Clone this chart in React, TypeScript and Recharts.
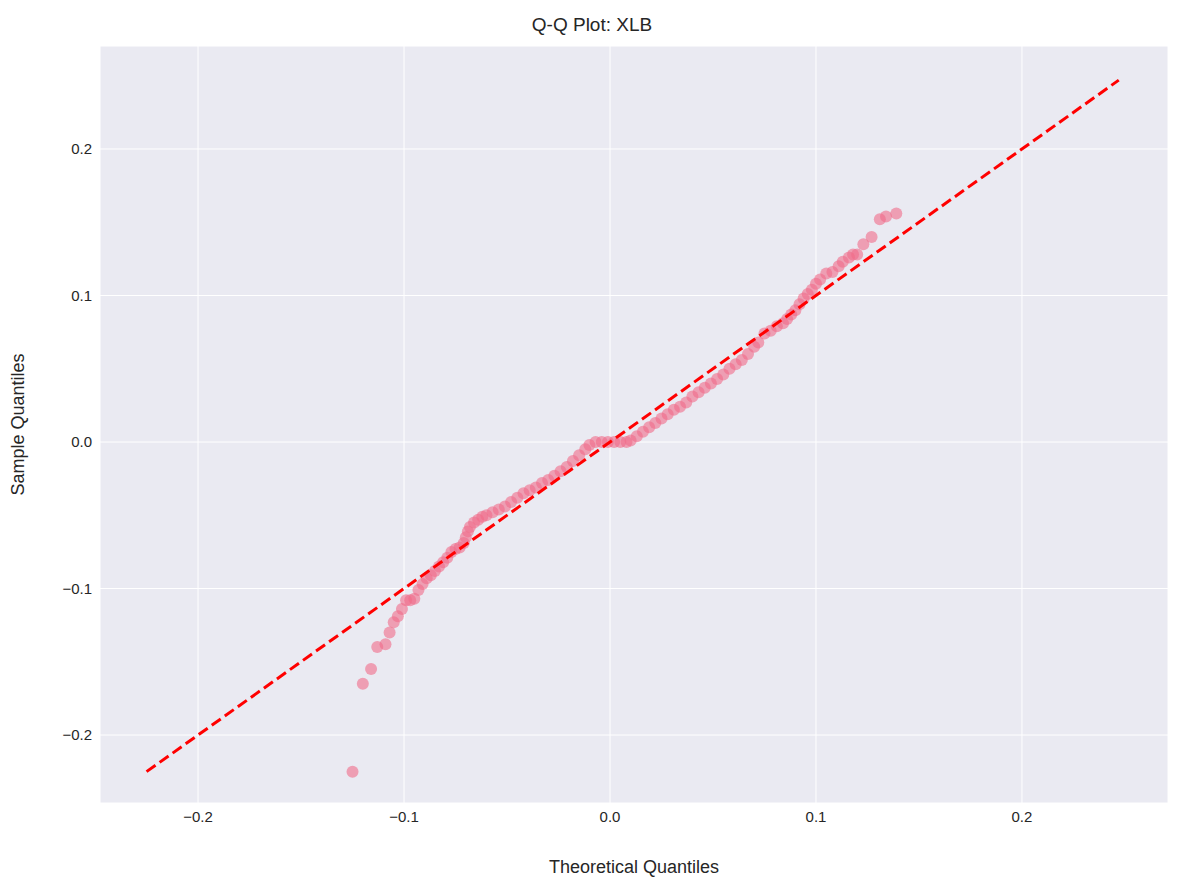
import React from "react";
import {
  ScatterChart,
  Scatter,
  XAxis,
  YAxis,
  CartesianGrid,
  Label,
} from "recharts";

if (typeof document !== "undefined") document.body.style.margin = "0";

// theoretical vs sample quantiles
const theoretical = [
  -0.125, -0.12, -0.116, -0.113, -0.109, -0.107, -0.105, -0.103, -0.101, -0.099,
  -0.097, -0.095, -0.093, -0.091, -0.089, -0.087, -0.085, -0.083, -0.081, -0.079,
  -0.077, -0.075, -0.073, -0.071, -0.07, -0.069, -0.068, -0.066, -0.064, -0.062,
  -0.06, -0.057, -0.054, -0.051, -0.048, -0.045, -0.042, -0.039, -0.036, -0.033,
  -0.03, -0.027, -0.024, -0.021, -0.018, -0.015, -0.012, -0.01, -0.007, -0.004,
  -0.001, 0.002, 0.005, 0.008, 0.01, 0.013, 0.016, 0.019, 0.022, 0.025,
  0.028, 0.031, 0.034, 0.037, 0.04, 0.043, 0.046, 0.049, 0.052, 0.055,
  0.058, 0.061, 0.064, 0.067, 0.07, 0.072, 0.075, 0.078, 0.081, 0.084,
  0.086, 0.088, 0.09, 0.092, 0.094, 0.096, 0.098, 0.1, 0.102, 0.105,
  0.108, 0.111, 0.113, 0.116, 0.118, 0.12, 0.123, 0.127, 0.131, 0.134, 0.139,
];
const sample = [
  -0.225, -0.165, -0.155, -0.14, -0.138, -0.13, -0.123, -0.119, -0.114, -0.108,
  -0.108, -0.107, -0.101, -0.097, -0.093, -0.091, -0.088, -0.085, -0.082, -0.079,
  -0.075, -0.073, -0.072, -0.069, -0.065, -0.061, -0.058, -0.055, -0.053, -0.051,
  -0.05, -0.048, -0.046, -0.044, -0.041, -0.038, -0.035, -0.033, -0.031, -0.028,
  -0.026, -0.023, -0.02, -0.017, -0.013, -0.009, -0.005, -0.002, 0.0, 0.0,
  0.0, 0.0, 0.0, 0.0, 0.001, 0.004, 0.007, 0.01, 0.013, 0.016,
  0.019, 0.022, 0.024, 0.027, 0.031, 0.034, 0.037, 0.04, 0.043, 0.046,
  0.05, 0.053, 0.056, 0.06, 0.065, 0.068, 0.074, 0.076, 0.079, 0.081,
  0.084, 0.087, 0.09, 0.094, 0.098, 0.101, 0.104, 0.108, 0.111, 0.115,
  0.116, 0.12, 0.123, 0.126, 0.128, 0.128, 0.135, 0.14, 0.152, 0.154, 0.156,
].slice(0, 0);
const sampleValues = [
  -0.225, -0.165, -0.155, -0.14, -0.138, -0.13, -0.123, -0.119, -0.114, -0.108,
  -0.108, -0.107, -0.101, -0.097, -0.093, -0.091, -0.088, -0.085, -0.082, -0.079,
  -0.075, -0.073, -0.072, -0.069, -0.065, -0.061, -0.058, -0.055, -0.053, -0.051,
  -0.05, -0.048, -0.046, -0.044, -0.041, -0.038, -0.035, -0.033, -0.031, -0.028,
  -0.026, -0.023, -0.02, -0.017, -0.013, -0.009, -0.005, -0.002, 0.0, 0.0,
  0.0, 0.0, 0.0, 0.0, 0.001, 0.004, 0.007, 0.01, 0.013, 0.016,
  0.019, 0.022, 0.024, 0.027, 0.031, 0.034, 0.037, 0.04, 0.043, 0.046,
  0.05, 0.053, 0.056, 0.06, 0.065, 0.068, 0.074, 0.076, 0.079, 0.081,
  0.084, 0.087, 0.09, 0.094, 0.098, 0.101, 0.104, 0.108, 0.111, 0.115,
  0.116, 0.12, 0.123, 0.126, 0.128, 0.128, 0.135, 0.14, 0.152, 0.154, 0.156,
  0.174, 0.247,
];
void sample;
const refLineX = [-0.225, 0.247];
const refLineY = [-0.225, 0.247];
const xTicks = [-0.2, -0.1, 0, 0.1, 0.2];
const yTicks = [-0.2, -0.1, 0, 0.1, 0.2];

const points = theoretical.map((x, i) => ({ x, y: sampleValues[i] }));
const linePts = refLineX.map((x, i) => ({ x, y: refLineY[i] }));

const fmt = (v: number) => (v === 0 ? "0.0" : v.toFixed(1).replace("-", "\u2212"));
const font = "'Liberation Sans', Arial, sans-serif";

export default function App() {
  return (
    <div style={{ width: 1184, height: 882, background: "#fff", fontFamily: font, position: "relative" }}>
      <div style={{ position: "absolute", top: 14, width: "100%", textAlign: "center", fontSize: 19, color: "#262626" }}>
        Q-Q Plot: XLB
      </div>
      <ScatterChart width={1184} height={882} margin={{ top: 46, right: 16, left: 40, bottom: 49 }}>
        <CartesianGrid fill="#eaeaf2" stroke="#ffffff" strokeWidth={1} />
        <XAxis
          type="number"
          dataKey="x"
          domain={[-0.2476, 0.2709]}
          ticks={xTicks}
          tickFormatter={fmt}
          axisLine={false}
          tickLine={false}
          allowDataOverflow
          height={30}
          tick={{ fontSize: 15, fill: "#262626", fontFamily: font }}
        >
          <Label value="Theoretical Quantiles" position="insideBottom" offset={-40} style={{ fontSize: 18, fill: "#262626", fontFamily: font }} />
        </XAxis>
        <YAxis
          type="number"
          dataKey="y"
          domain={[-0.2464, 0.2703]}
          ticks={yTicks}
          tickFormatter={fmt}
          axisLine={false}
          tickLine={false}
          allowDataOverflow
          width={60}
          tick={{ fontSize: 15, fill: "#262626", fontFamily: font }}
        >
          <Label value="Sample Quantiles" angle={-90} position="insideLeft" offset={-22} style={{ fontSize: 18, fill: "#262626", fontFamily: font, textAnchor: "middle" }} />
        </YAxis>
        <Scatter
          data={points}
          fill="#f06a88"
          fillOpacity={0.6}
          shape={(p: any) => <circle cx={p.cx} cy={p.cy} r={6} fill="#f06a88" fillOpacity={0.6} />}
          isAnimationActive={false}
        />
        <Scatter
          data={linePts}
          line={{ stroke: "#ff0000", strokeWidth: 3, strokeDasharray: "11 5" }}
          shape={() => null}
          isAnimationActive={false}
        />
      </ScatterChart>
    </div>
  );
}
